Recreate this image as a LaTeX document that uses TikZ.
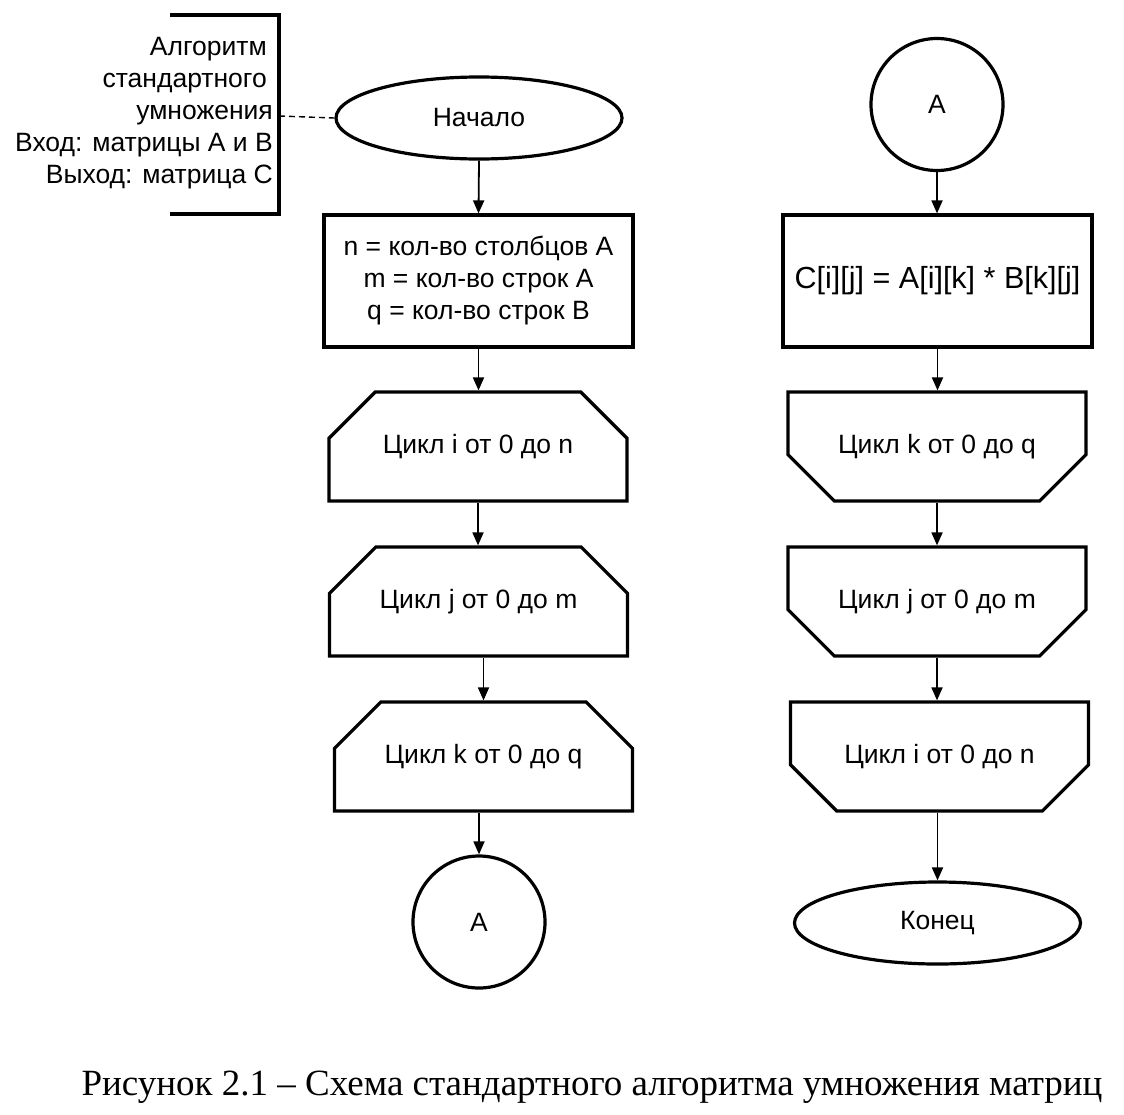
\documentclass[tikz,border=0pt]{standalone}
\usepackage{fontspec}
\setmainfont{Liberation Sans}
\newfontfamily\capfont{Liberation Serif}
\usetikzlibrary{shapes.geometric,shapes.misc,arrows.meta}
\begin{document}
\begin{tikzpicture}[x=1pt,y=-1pt,
  every node/.style={font=\fontsize{26.5}{32}\selectfont, inner sep=0pt},
  blk/.style={draw, line width=3.2pt},
  term/.style={blk, ellipse, minimum width=286pt, minimum height=82pt},
  procbox/.style={blk, rectangle, minimum width=309pt, minimum height=132pt, align=center},
  loopA/.style={blk, chamfered rectangle, chamfered rectangle corners={north west,north east}, chamfered rectangle xsep=45pt, chamfered rectangle ysep=34pt, minimum width=298pt, minimum height=109pt},
  loopB/.style={blk, chamfered rectangle, chamfered rectangle corners={south west,south east}, chamfered rectangle xsep=45pt, chamfered rectangle ysep=34pt, minimum width=298pt, minimum height=109pt},
  conn/.style={blk, circle, minimum size=132pt},
  arr/.style={line width=1.8pt, -{Triangle[length=13pt,width=11pt]}}
]
\useasboundingbox (0,0) rectangle (1124,1114);
% left column
\node[term] (start) at (479,118) {Начало};
\node[procbox] (init) at (478.5,281) {n = кол-во столбцов А\\m = кол-во строк А\\q = кол-во строк В};
\node[loopA] (li) at (478,446.5) {Цикл i от 0 до n};
\node[loopA] (lj) at (478.5,601.5) {Цикл j от 0 до m};
\node[loopA] (lk) at (483.5,756.5) {Цикл k от 0 до q};
\node[conn] (ca) at (479,922) {А};
% annotation
\coordinate (bt) at (170,15);
\coordinate (bb) at (170,214);
\draw[line width=3.6pt] (bt) -- (279,15) -- (279,214) -- (bb);
\coordinate (bm) at (279,116);
\draw[line width=1.4pt, dashed, dash pattern=on 6pt off 4pt] (bm) -- (start.west);
\node[anchor=north east, align=right] (note) at (273,37) {Алгоритм\kern6pt\\стандартного\kern6pt\\умножения\\Вход: матрицы А и В\\Выход: матрица С};
% right column
\node[conn] (cb) at (937,104.5) {А};
\node[procbox, font=\fontsize{30.5}{34}\selectfont] (calc) at (937.5,281) {C[i][j] = A[i][k] * B[k][j]};
\node[loopB] (ek) at (937,446.5) {Цикл k от 0 до q};
\node[loopB] (ej) at (937,601.5) {Цикл j от 0 до m};
\node[loopB] (ei) at (939.5,756.5) {Цикл i от 0 до n};
\node[term] (stop) at (937.5,923) {Конец};
% arrows
\draw[arr] (start.south) -- (init.north);
\draw[arr] (init.south) -- (init.south |- li.north);
\draw[arr] (li.south) -- (li.south |- lj.north);
\draw[arr] (lj.south -| lk.south) -- (lk.north);
\draw[arr] (lk.south -| ca.north) -- (ca.north);
\draw[arr] (cb.south) -- (cb.south |- calc.north);
\draw[arr] (calc.south) -- (calc.south |- ek.north);
\draw[arr] (ek.south) -- (ek.south |- ej.north);
\draw[arr] (ej.south) -- (ej.south |- ei.north);
\draw[arr] (ei.south -| stop.north) -- (stop.north);
% caption
\node[font=\capfont\fontsize{37}{40}\selectfont] (cap) at (592,1087) {Рисунок 2.1 – Схема стандартного алгоритма умножения матриц};
\end{tikzpicture}
\end{document}
